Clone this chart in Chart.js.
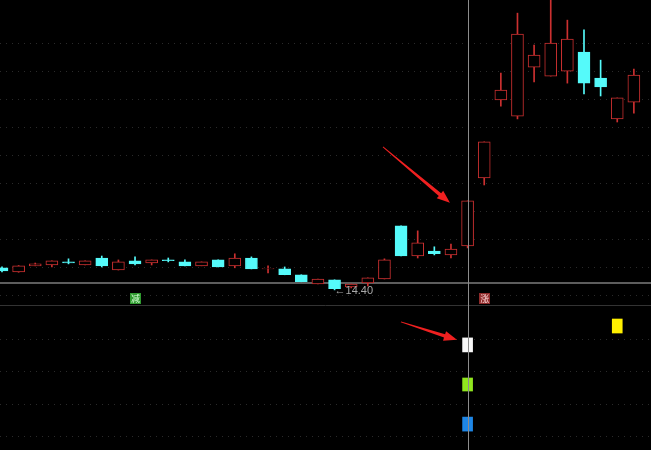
<!DOCTYPE html>
<html><head><meta charset="utf-8">
<script src="https://cdn.jsdelivr.net/npm/chart.js@4.4.1/dist/chart.umd.min.js"></script>
<style>
html,body{margin:0;padding:0;background:#000;width:651px;height:450px;overflow:hidden}
#top{position:absolute;left:0;top:0;width:651px;height:305px}
#bot{position:absolute;left:0;top:305px;width:651px;height:145px}
</style></head><body>
<div id="top"><canvas id="c1"></canvas></div>
<div id="bot"><canvas id="c2"></canvas></div>
<script>
// ---- data ----
const candleIndex = [0,1,2,3,4,5,6,7,8,9,10,11,12,13,14,15,16,17,18,19,20,21,22,23,24,25,26,27,28,29,30,31,32,33,34,35,36,37,38];
const openP  = [15.19,15.04,15.26,15.29,15.40,15.29,15.54,15.11,15.44,15.36,15.47,15.40,15.26,15.47,15.26,15.54,15.15,15.15,14.94,14.61,14.76,14.51,14.65,14.79,16.69,15.61,15.79,15.65,15.97,18.40,21.19,20.61,22.36,22.04,22.22,22.90,21.97,20.51,21.11];
const closeP = [15.08,15.26,15.33,15.44,15.36,15.44,15.26,15.40,15.33,15.47,15.44,15.26,15.40,15.22,15.54,15.15,15.16,14.94,14.69,14.79,14.44,14.61,14.83,15.47,15.61,16.08,15.69,15.86,17.58,19.69,21.54,23.54,22.79,23.22,23.36,21.79,21.65,21.26,22.08];
const highP  = [15.22,15.27,15.36,15.44,15.51,15.44,15.61,15.47,15.58,15.47,15.54,15.47,15.40,15.47,15.69,15.58,15.26,15.22,14.94,14.79,14.76,14.61,14.83,15.51,16.69,16.51,15.94,16.04,17.58,19.69,22.15,24.29,23.15,24.94,24.04,23.69,22.61,21.26,22.29];
const lowP   = [15.04,15.03,15.26,15.22,15.33,15.29,15.22,15.11,15.29,15.29,15.40,15.26,15.26,15.22,15.19,15.15,15.01,14.94,14.69,14.61,14.40,14.47,14.54,14.79,15.61,15.54,15.65,15.54,15.90,18.15,20.97,20.51,21.83,22.04,21.79,21.40,21.33,20.40,20.72];
const priceMin = 13.86, priceMax = 24.76;
const gridLevels = [14.19,15.19,16.19,17.19,18.19,19.19,20.19,21.19,22.19,23.19];
const refLevel = 14.65;
const lowLabel = '←14.40';
const lowLabelIndex = 20, lowLabelValue = 14.40;
const markIndex = [8, 29];
const markText = ['减', '涨'];
const markLevel = 14.11;
const crossIndex = 28;
const arrowTop = {fromX: 22.91, fromY: 19.51, toX: 26.94, toY: 17.51};
// lower panel signals
const sigIndex = [28, 28, 28, 37];
const sigLow   = [2.61, 1.41, 0.18, 3.19];
const sigHigh  = [3.04, 1.81, 0.61, 3.62];
const sigMin = -0.4, sigMax = 4.05;
const sigGrid = [0, 1, 2, 3];
const arrowBot = {fromX: 23.99, fromY: 3.53, toX: 27.36, toY: 2.98};
const xMin = -0.12, xMax = 39.03;

// ---- styles ----
const RED = '#cc3030', CYAN = '#55fafa', BG = '#000';
const isUp = candleIndex.map(i => closeP[i] >= openP[i]);
const bodyFill = isUp.map(u => u ? BG : CYAN);
const edge = isUp.map(u => u ? RED : CYAN);

function drawArrow(ctx, x1, y1, x2, y2) {
  const dx = x2 - x1, dy = y2 - y1, L = Math.hypot(dx, dy);
  const ux = dx / L, uy = dy / L, nx = -uy, ny = ux;
  const head = 13, bx = x2 - ux * head, by = y2 - uy * head;
  ctx.beginPath();
  ctx.moveTo(x1 + nx * 0.4, y1 + ny * 0.4);
  ctx.lineTo(bx + nx * 1.8, by + ny * 1.8);
  ctx.lineTo(bx + nx * 5, by + ny * 5);
  ctx.lineTo(x2, y2);
  ctx.lineTo(bx - nx * 5, by - ny * 5);
  ctx.lineTo(bx - nx * 1.8, by - ny * 1.8);
  ctx.lineTo(x1 - nx * 0.4, y1 - ny * 0.4);
  ctx.closePath();
  ctx.fillStyle = '#f02020';
  ctx.fill();
}

function crossLine(chart) {
  const {ctx, scales: {x}, chartArea: a} = chart;
  const cx = Math.round(x.getPixelForValue(crossIndex)) + 0.5;
  ctx.save();
  ctx.strokeStyle = '#8c8c8c'; ctx.lineWidth = 1;
  ctx.beginPath(); ctx.moveTo(cx, a.top); ctx.lineTo(cx, a.bottom); ctx.stroke();
  ctx.restore();
}

const topPlugin = {
  id: 'topPlugin',
  beforeDatasetsDraw(chart) {
    const {ctx, scales: {y}, chartArea: a} = chart;
    const ry = y.getPixelForValue(refLevel);
    ctx.save();
    ctx.strokeStyle = '#7d7d7d'; ctx.lineWidth = 1.5;
    ctx.beginPath(); ctx.moveTo(a.left, ry); ctx.lineTo(a.right, ry); ctx.stroke();
    ctx.restore();
  },
  afterDatasetsDraw(chart) {
    const {ctx, scales: {x, y}} = chart;
    crossLine(chart);
    ctx.save();
    ctx.font = '11px "Liberation Sans", Arial, sans-serif';
    ctx.fillStyle = '#a8a8a8'; ctx.textAlign = 'left'; ctx.textBaseline = 'middle';
    ctx.fillText(lowLabel, x.getPixelForValue(lowLabelIndex), y.getPixelForValue(lowLabelValue) + 1);
    markIndex.forEach((idx, k) => {
      const px = x.getPixelForValue(idx), py = y.getPixelForValue(markLevel);
      ctx.fillStyle = k === 0 ? '#2f9a2f' : '#8e2a2a';
      ctx.fillRect(Math.round(px - 5), Math.round(py - 5), 11, 11);
      ctx.fillStyle = k === 0 ? '#d8ffd8' : '#ffd8d8';
      ctx.font = '9px "Noto Sans CJK SC", sans-serif';
      ctx.textAlign = 'center'; ctx.textBaseline = 'middle';
      ctx.fillText(markText[k], px + 0.5, py + 0.5);
    });
    drawArrow(ctx, x.getPixelForValue(arrowTop.fromX), y.getPixelForValue(arrowTop.fromY),
                   x.getPixelForValue(arrowTop.toX), y.getPixelForValue(arrowTop.toY));
    ctx.restore();
  }
};

const botPlugin = {
  id: 'botPlugin',
  beforeDatasetsDraw(chart) {
    const {ctx, chartArea: a} = chart;
    ctx.save();
    ctx.strokeStyle = '#333333'; ctx.lineWidth = 1;
    ctx.beginPath(); ctx.moveTo(a.left, a.top + 0.5); ctx.lineTo(a.right, a.top + 0.5); ctx.stroke();
    ctx.restore();
  },
  afterDatasetsDraw(chart) {
    const {ctx, scales: {x, y}} = chart;
    crossLine(chart);
    ctx.save();
    drawArrow(ctx, x.getPixelForValue(arrowBot.fromX), y.getPixelForValue(arrowBot.fromY),
                   x.getPixelForValue(arrowBot.toX), y.getPixelForValue(arrowBot.toY));
    ctx.restore();
  }
};

function baseOptions(ymin, ymax, levels) {
  return {
    responsive: true, maintainAspectRatio: false, animation: false,
    layout: {padding: 0},
    plugins: {legend: {display: false}, tooltip: {enabled: false}},
    scales: {
      x: {type: 'linear', min: xMin, max: xMax, offset: false, display: false},
      y: {
        type: 'linear', min: ymin, max: ymax, display: true,
        ticks: {display: false},
        grid: {color: '#2a2a2a', lineWidth: 1, drawTicks: false},
        border: {display: false, dash: [1, 5]},
        afterBuildTicks: s => { s.ticks = levels.map(v => ({value: v})); }
      }
    }
  };
}

new Chart(document.getElementById('c1'), {
  type: 'bar',
  data: {
    datasets: [
      {
        label: 'wick', order: 2, grouped: false, barThickness: 1,
        data: candleIndex.map(i => ({x: i, y: [lowP[i], highP[i]]})),
        backgroundColor: edge, borderWidth: 0
      },
      {
        label: 'body', order: 1, grouped: false, barThickness: 12,
        data: candleIndex.map(i => ({x: i, y: [openP[i], closeP[i]]})),
        backgroundColor: bodyFill, borderColor: edge, borderWidth: 1, borderSkipped: false
      }
    ]
  },
  options: baseOptions(priceMin, priceMax, gridLevels),
  plugins: [topPlugin]
});

new Chart(document.getElementById('c2'), {
  type: 'bar',
  data: {
    datasets: [{
      label: 'signal', grouped: false, barThickness: 10,
      data: sigIndex.map((idx, k) => ({x: idx, y: [sigLow[k], sigHigh[k]]})),
      backgroundColor: ['#f8f8f8', '#90e61e', '#1e86e6', '#fff000'],
      borderWidth: 0
    }]
  },
  options: baseOptions(sigMin, sigMax, sigGrid),
  plugins: [botPlugin]
});
</script>
</body></html>
